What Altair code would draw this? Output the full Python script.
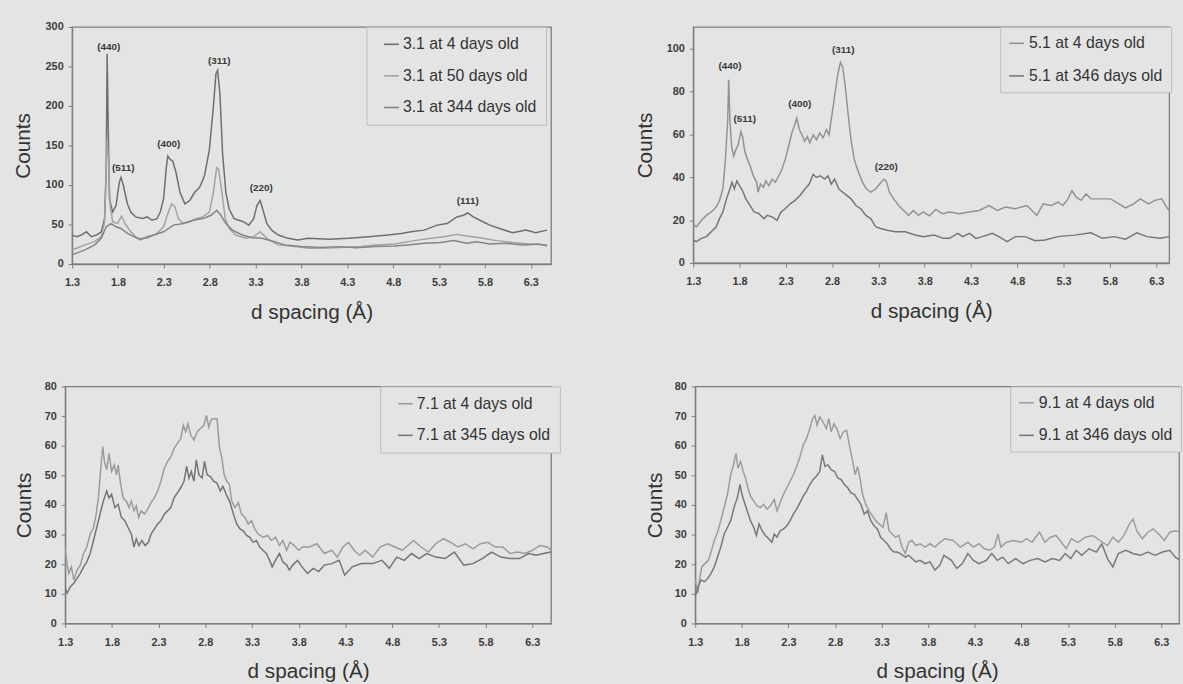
import altair as alt
import pandas as pd

BG = "#e4e4e4"
FONT = "Liberation Sans"
FRAME = "#7d7d7d"

# ---------------- data ----------------
xticks = [1.3, 1.8, 2.3, 2.8, 3.3, 3.8, 4.3, 4.8, 5.3, 5.8, 6.3]

# Panel 3.1
p1_names = ["3.1 at 4 days old", "3.1 at 50 days old", "3.1 at 344 days old"]
p1_x_a = [1.30,1.35,1.40,1.457,1.51,1.565,1.618,1.654,1.672,1.682,1.693,1.707,1.743,1.779,1.814,1.833,1.86,1.903,1.94,1.993,
          2.065,2.118,2.172,2.225,2.261,2.297,2.325,2.343,2.368,2.397,2.433,2.476,2.529,2.583,2.636,2.69,2.743,2.797,2.84,2.868,
          2.886,2.911,2.94,2.976,3.011,3.065,3.118,3.172,3.226,3.279,3.315,3.35,3.387,3.422,3.476,3.548,3.655,3.762,3.869,4.10,
          4.315,4.53,4.744,4.887,4.995,5.137,5.28,5.387,5.494,5.566,5.612,5.673,5.745,5.852,5.959,6.102,6.245,6.352,6.477]
p1_y_a = [36.6,34.6,36.7,40.8,34.6,36.7,40.8,57.5,120,266,182.5,82.5,65.8,74,103,109.6,99,76,65.8,59.6,
          57.5,59.6,55.4,57.5,65.8,82.5,120,136.7,132.5,130.4,115.8,90.8,76.2,80.4,90.8,97,111.7,145,199.2,240.8,
          245,215.8,140.8,90.8,70,57.5,55.4,53.3,49.2,57.5,74.2,80.4,65.8,51.25,42.9,36.7,32.5,30.4,32.5,31.25,
          32.5,34.6,36.7,38.75,40.8,42.9,49.2,51.25,59.6,61.7,64.6,59.6,55.4,49.2,45,39.6,42.9,39.6,42.9]
p1_x_b = [1.30,1.35,1.44,1.547,1.618,1.654,1.672,1.682,1.697,1.715,1.743,1.797,1.839,1.876,1.94,2.011,2.118,2.225,2.297,2.35,
          2.386,2.422,2.458,2.511,2.583,2.654,2.725,2.797,2.84,2.876,2.897,2.933,2.969,3.011,3.083,3.19,3.279,3.35,3.422,3.548,
          3.726,3.886,4.10,4.458,4.601,4.816,5.03,5.209,5.352,5.494,5.601,5.745,5.923,6.102,6.28,6.477]
p1_y_b = [18,20,24.2,28.3,34.6,53.3,120,159.6,132.5,74.2,53.3,51.25,60.8,51.25,40.8,32.5,32.5,38.75,47.1,65.8,
          76.2,72,57.5,51.25,53.3,57.5,59.6,65.8,90.8,122,120,90.8,57.5,45,36.7,32.5,34.6,40.8,32.5,24.2,
          22.1,20,20.4,22.1,24.2,25.4,29.6,32.5,34.6,37.5,35.4,33.3,29.6,27.1,25.4,24.2]
p1_x_c = [1.30,1.35,1.44,1.547,1.618,1.672,1.725,1.779,1.833,1.903,1.975,2.047,2.118,2.19,2.297,2.404,2.511,2.618,2.725,2.815,
          2.876,2.922,2.976,3.047,3.154,3.261,3.369,3.476,3.618,3.797,4.00,4.20,4.40,4.601,4.816,4.958,5.137,5.316,5.459,5.601,
          5.709,5.852,6.03,6.209,6.388,6.477]
p1_y_c = [12,13.75,17.9,24.2,32.5,47.1,51.25,47.1,45,38.75,34.6,30.4,34.6,36.7,40.8,49.2,51.25,55.4,57.5,61.7,
          67.9,61.7,51.25,42.9,36.7,33.3,32.5,29.2,24.2,22.1,21,22,20.5,22.1,22.9,24.2,26.25,27.1,29.6,26.25,
          28.3,25.4,26.25,24.2,25.4,22.9]
p1_peak_text = ["(440)", "(511)", "(400)", "(311)", "(220)", "(111)"]
p1_peak_x = [1.70, 1.857, 2.354, 2.904, 3.361, 5.612]
p1_peak_y = [275, 122, 152, 257, 96, 80]

# Panel 5.1
p2_names = ["5.1 at 4 days old", "5.1 at 346 days old"]
p2_x_a = [1.30,1.335,1.389,1.442,1.495,1.548,1.584,1.62,1.648,1.673,1.683,1.697,1.715,1.737,1.761,1.787,1.815,1.833,1.857,1.886,
          1.915,1.95,1.985,2.0,2.027,2.056,2.085,2.117,2.152,2.187,2.223,2.258,2.294,2.33,2.365,2.39,2.418,2.447,2.475,2.503,
          2.532,2.56,2.596,2.631,2.667,2.702,2.738,2.767,2.79,2.826,2.862,2.89,2.915,2.943,2.972,3.004,3.039,3.086,3.129,3.171,
          3.217,3.27,3.313,3.359,3.384,3.419,3.465,3.519,3.572,3.625,3.678,3.732,3.785,3.85,3.92,3.99,4.069,4.175,4.282,4.388,
          4.495,4.583,4.673,4.779,4.903,5.009,5.081,5.169,5.24,5.294,5.347,5.39,5.435,5.489,5.542,5.595,5.702,5.808,5.897,5.968,
          6.057,6.128,6.217,6.287,6.359,6.412,6.44]
p2_y_a = [18,16.9,19.9,22.2,23.8,26.1,29.2,34.5,48.3,66.7,85.4,66.5,54.4,49.8,52.9,55.2,61.3,59,52.1,48.3,
          45.2,40.6,37.6,33,36.8,35.3,38.3,36,39.1,37.6,40.6,43.7,48.3,54.4,60.6,63.6,67.5,62.1,59.8,56.7,
          59,56,59.8,57.5,60.6,58.3,62.1,59.8,66.7,77.4,88.1,93.5,91.2,82,69.7,57.5,48.3,42.2,37.6,34.5,
          33,34.5,36.8,39.1,38.3,33,29.9,26.8,24.5,22.2,24.5,22.2,23.8,22,25,23,23.8,23,23.8,24.5,
          26.8,24.5,26.1,25.3,26.8,22.2,27.6,26.8,28.4,26.8,29.9,33.8,30.7,29.2,32.2,29.9,29.9,29.9,27.6,25.7,
          27.6,29.9,27.6,29.2,29.9,26.1,24.5]
p2_x_b = [1.30,1.335,1.389,1.442,1.495,1.548,1.584,1.62,1.655,1.69,1.719,1.744,1.772,1.801,1.832,1.868,1.915,1.957,2.01,2.063,
          2.099,2.152,2.205,2.248,2.294,2.347,2.4,2.453,2.507,2.553,2.596,2.631,2.674,2.72,2.756,2.791,2.826,2.873,2.915,2.958,
          3.004,3.057,3.11,3.164,3.217,3.27,3.324,3.395,3.484,3.59,3.697,3.785,3.9,4.0,4.069,4.157,4.21,4.282,4.353,4.424,
          4.53,4.601,4.69,4.779,4.886,4.992,5.099,5.24,5.418,5.595,5.72,5.844,5.968,6.092,6.199,6.341,6.44]
p2_y_b = [10.5,10,11.5,12.3,14.6,16.9,20.7,23.8,29.2,33.8,37.6,34.5,38.3,36,33.8,29.9,26.8,23.8,23,20.7,
          22.2,21.5,19.9,23.8,25.3,27.6,29.2,31.5,34.5,36.8,41.4,39.9,40.6,39.1,40.6,36.8,39.1,34.5,33,31.5,
          29.9,26.8,25.3,22.2,20.7,16.9,16.1,15.3,14.6,14.6,13.1,12.3,13,11.5,11.5,13.8,12.3,13.8,11.5,12.3,
          13.8,12.3,10,12.3,12.3,10.4,10.7,12.3,13,14.1,11.5,12.3,11.1,14.1,12.3,11.5,12.3]
p2_peak_text = ["(440)", "(511)", "(400)", "(311)", "(220)"]
p2_peak_x = [1.697, 1.857, 2.45, 2.92, 3.384]
p2_peak_y = [91.6, 67.2, 74.1, 99.4, 44.6]

# Panel 7.1
p3_names = ["7.1 at 4 days old", "7.1 at 345 days old"]
p3_x_a = [1.30,1.321,1.339,1.367,1.392,1.427,1.462,1.497,1.532,1.568,1.603,1.631,1.656,1.684,1.702,1.72,1.744,1.769,1.797,1.825,
          1.85,1.867,1.892,1.92,1.955,1.984,2.008,2.036,2.061,2.086,2.114,2.149,2.184,2.219,2.255,2.29,2.325,2.361,2.396,2.431,
          2.466,2.501,2.537,2.565,2.59,2.614,2.643,2.678,2.713,2.748,2.784,2.812,2.837,2.865,2.9,2.925,2.953,2.977,3.002,3.03,
          3.058,3.083,3.118,3.153,3.188,3.224,3.259,3.294,3.329,3.365,3.417,3.47,3.506,3.551,3.594,3.629,3.671,3.706,3.752,3.798,
          3.84,3.914,3.994,4.074,4.153,4.213,4.273,4.332,4.392,4.451,4.511,4.591,4.67,4.75,4.83,4.909,4.988,5.028,5.108,5.187,
          5.267,5.347,5.426,5.505,5.585,5.665,5.744,5.824,5.904,5.983,6.062,6.142,6.222,6.301,6.38,6.46,6.5]
p3_y_a = [25,20,16.9,19.1,14.7,18,19.7,23.6,25.8,30.2,32.4,36.8,42.4,53.5,59.7,54.7,51.9,57.4,51.3,53.5,
          50.2,53.5,47.4,42.4,41.3,39.1,41.3,38,39.7,35.8,38,36.9,38.6,40.8,42.4,44.7,48,52.4,54.7,56.3,
          59.1,60.8,62.4,66.9,64.7,67.4,63.6,61.9,64.7,65.8,66.9,70.2,66.3,68.9,69.1,69.1,59.1,55.8,50.2,48,
          46.9,41.3,39.1,40.8,36.9,35.8,33.6,34.7,31.9,30.2,29.1,29.7,28,29.1,26.3,28,24.7,27.4,26.3,24.7,
          25.8,25.8,26.9,23.6,24.7,22.4,25.8,27.4,24.7,23,24.7,22.4,25.8,26.9,25.8,24.7,26.9,28,25.8,24.1,
          26.9,28.6,27.4,25.8,26.9,25.2,26.9,27.4,25.8,25.8,23.6,24.1,23.6,24.7,26.3,25.8,24.7]
p3_x_b = [1.30,1.321,1.356,1.392,1.427,1.462,1.497,1.532,1.568,1.603,1.638,1.673,1.709,1.744,1.769,1.797,1.832,1.867,1.902,1.938,
          1.973,2.008,2.036,2.061,2.089,2.121,2.156,2.191,2.219,2.255,2.29,2.325,2.361,2.396,2.431,2.466,2.501,2.537,2.572,2.6,
          2.625,2.65,2.678,2.703,2.731,2.766,2.791,2.819,2.854,2.889,2.925,2.96,2.988,3.023,3.065,3.101,3.136,3.171,3.206,3.241,
          3.277,3.312,3.347,3.382,3.417,3.453,3.488,3.516,3.551,3.594,3.629,3.671,3.699,3.734,3.787,3.835,3.894,3.954,4.014,4.074,
          4.153,4.232,4.292,4.372,4.471,4.591,4.69,4.769,4.849,4.929,5.008,5.088,5.168,5.267,5.367,5.466,5.566,5.665,5.764,5.864,
          5.963,6.062,6.162,6.261,6.341,6.42,6.5]
p3_y_b = [12,10.2,12.4,13.6,15.2,16.9,19.1,20.8,23.6,28,32.4,36.9,41.3,44.7,42.4,43.6,39.1,40.2,35.8,34.7,
          32.4,30.2,25.8,28.6,26.3,28,26.3,27.4,30.2,31.9,33.6,34.7,36.9,38,39.1,42.4,44.1,45.8,48,53,
          49.1,51.3,48,55.2,50.2,49.1,54.7,50.2,49.6,48,47.4,44.7,46.3,43.6,40.8,36.9,33.6,31.9,31.3,29.7,
          29.1,27.4,28,25.8,24.7,23.6,21.3,19.1,21.3,23.6,20.8,19.7,18,19.7,21.3,19.1,16.9,18.6,17.5,19.7,
          20.2,21.3,16.3,19.1,20.2,20.2,21.3,18.6,22.4,21.3,23.6,21.9,23.6,22.4,21.9,24.1,19.7,20.2,21.9,24.1,
          22.4,21.9,21.9,23.6,23,23.6,24.1]

# Panel 9.1
p4_names = ["9.1 at 4 days old", "9.1 at 346 days old"]
p4_x_a = [1.30,1.329,1.346,1.37,1.405,1.441,1.476,1.505,1.54,1.575,1.611,1.646,1.681,1.71,1.738,1.759,1.787,1.815,1.84,1.865,
          1.893,1.929,1.964,2.0,2.035,2.071,2.106,2.148,2.177,2.212,2.247,2.283,2.318,2.353,2.388,2.424,2.459,2.494,2.53,2.558,
          2.583,2.607,2.636,2.671,2.706,2.734,2.759,2.788,2.819,2.855,2.89,2.925,2.954,2.989,3.017,3.042,3.067,3.095,3.13,3.166,
          3.201,3.236,3.272,3.314,3.349,3.378,3.413,3.448,3.484,3.519,3.554,3.59,3.625,3.667,3.713,3.766,3.819,3.872,3.925,3.978,
          4.067,4.145,4.225,4.284,4.343,4.402,4.461,4.509,4.548,4.578,4.638,4.717,4.796,4.855,4.913,4.993,5.052,5.11,5.17,5.229,
          5.28,5.335,5.406,5.485,5.564,5.642,5.722,5.78,5.839,5.899,5.958,5.997,6.036,6.096,6.155,6.213,6.272,6.332,6.391,6.45,6.5]
p4_y_a = [15,10.2,14.7,19.1,20.2,21.3,24.7,28,30.8,34.7,39.1,43.6,50.2,53.5,57.4,52.4,54.7,51.3,49.1,45.8,
          43,41.3,39.7,39.1,40.2,38.6,39.7,41.9,38,40.8,43.6,45.8,48,50.2,53,56.3,60.2,62.4,65.8,69.1,
          70.2,66.9,69.7,68,65.8,69.1,64.7,67.4,65.8,62.4,64.7,65.2,60.2,54.7,50.2,53,49.1,43.6,40.2,38,
          36.3,34.7,33.6,32.4,37.4,31.3,30.2,29.1,29.7,25.8,23.6,27.4,28,26.3,26.9,25.8,26.9,25.8,27.4,28.6,
          28,25.8,27.4,25.8,26.9,25.2,24.7,25.8,30.2,25.8,27.4,28,27.4,28.6,27.4,30.8,27.4,29.1,29.7,27.4,
          25.2,28.6,27.4,29.1,29.7,28,26.3,29.1,27.4,29.7,33.6,35.2,31.3,28.6,30.8,31.9,30.2,28,30.8,31.3,30.8]
p4_x_b = [1.30,1.329,1.364,1.399,1.434,1.47,1.505,1.54,1.575,1.611,1.646,1.681,1.716,1.752,1.78,1.801,1.829,1.858,1.893,1.929,
          1.957,1.985,2.017,2.053,2.088,2.123,2.148,2.177,2.212,2.247,2.283,2.318,2.353,2.388,2.424,2.459,2.494,2.53,2.565,2.6,
          2.636,2.664,2.692,2.724,2.759,2.795,2.83,2.865,2.9,2.936,2.971,3.007,3.042,3.077,3.113,3.148,3.183,3.219,3.254,3.289,
          3.325,3.36,3.395,3.431,3.466,3.501,3.554,3.59,3.625,3.667,3.713,3.766,3.819,3.872,3.925,3.968,4.048,4.106,4.166,4.225,
          4.284,4.343,4.422,4.481,4.54,4.599,4.658,4.736,4.816,4.894,4.973,5.052,5.13,5.209,5.268,5.328,5.387,5.445,5.525,5.603,
          5.662,5.722,5.78,5.839,5.918,5.997,6.075,6.155,6.233,6.312,6.391,6.45,6.5]
p4_y_b = [9,12.4,14.7,14.1,15.2,16.9,19.1,22.4,25.8,30.2,32.4,34.7,39.1,42.4,46.9,43.6,40.8,38,34.7,32.4,
          29.7,33.6,31.3,29.7,28.6,27.4,30.2,29.1,31.3,31.9,33,34.7,36.9,38.6,40.8,43,44.7,46.9,48.6,49.7,
          51.3,56.9,53,53.5,51.9,51.3,49.1,48.6,46.9,45.8,44.1,43.6,41.9,40.2,36.9,38,34.7,33,31.9,29.1,
          28,26.9,25.2,24.1,24.1,23.6,22.4,23,21.9,20.8,21.3,20.2,20.8,18,19.7,23,21.3,18.6,20.2,23.6,
          21.3,20.2,21.3,23.6,21.3,22.4,20.2,21.9,20.2,21.3,21.9,20.8,21.9,21.3,23.6,21.9,24.7,23,25.2,24.1,
          26.9,21.9,19.1,23.6,24.7,23.6,23,24.1,23,24.1,24.7,22.4,21.3]


# ---------------- helpers ----------------
def frame(xs_list, ys_list, names):
    parts = []
    for xs, ys, n in zip(xs_list, ys_list, names):
        if len(xs) != len(ys):
            raise ValueError(f"length mismatch in {n}: {len(xs)} vs {len(ys)}")
        parts.append(pd.DataFrame({"d": xs, "counts": ys, "series": n}))
    return pd.concat(parts, ignore_index=True)


def panel(df, names, colors, xmax, ymax, yticks, width, height, extent,
          legend_x, legend_pad, sym_offset, row_pad, label_offset, peaks=None):
    xs = alt.Scale(domain=[1.3, xmax], nice=False, zero=False)
    ys = alt.Scale(domain=[0, ymax], nice=False, zero=True)
    x_axis = alt.Axis(values=xticks, format=".1f", title="d spacing (Å)",
                      grid=False, tickSize=4, labelPadding=9, titlePadding=14,
                      labelFlush=False, labelOverlap=False)
    y_axis = alt.Axis(values=yticks, title="Counts", grid=False, tickSize=4,
                      labelPadding=5, minExtent=extent, maxExtent=extent,
                      titlePadding=8, labelOverlap=False, labelFlush=False)
    lines = alt.Chart(df).mark_line(strokeWidth=1.5, clip=True).encode(
        x=alt.X("d:Q", scale=xs, axis=x_axis),
        y=alt.Y("counts:Q", scale=ys, axis=y_axis),
        color=alt.Color("series:N",
                        scale=alt.Scale(domain=names, range=colors),
                        sort=names,
                        legend=alt.Legend(title=None, orient="none", legendX=legend_x, legendY=0,
                                          direction="vertical", symbolType="stroke",
                                          symbolSize=225, symbolStrokeWidth=1.6,
                                          labelFontSize=16, labelFont=FONT, labelColor="#333333",
                                          labelOffset=label_offset, rowPadding=row_pad, padding=legend_pad,
                                          symbolOffset=sym_offset, labelLimit=400,
                                          strokeColor="#bcbcbc", fillColor=BG)))
    layers = [lines]
    if peaks is not None:
        txt, px, py = peaks
        pdf = pd.DataFrame({"label": txt, "d": px, "counts": py})
        layers.append(alt.Chart(pdf).mark_text(fontSize=10, fontWeight="bold", font=FONT,
                                               color="#3a3a3a", baseline="middle", align="center").encode(
            x=alt.X("d:Q", scale=xs, axis=x_axis),
            y=alt.Y("counts:Q", scale=ys, axis=y_axis),
            text="label:N"))
    return alt.layer(*layers).properties(width=width, height=height)


def spacer(w):
    return alt.Chart(pd.DataFrame({"v": [0]})).mark_point(size=1, opacity=0).encode(
        x=alt.value(w / 2), y=alt.value(0.5)
    ).properties(width=w, height=1, view=alt.ViewBackground(stroke="transparent", strokeWidth=0))


p1 = panel(frame([p1_x_a, p1_x_b, p1_x_c], [p1_y_a, p1_y_b, p1_y_c], p1_names), p1_names,
           ["#6e6e6e", "#a2a2a2", "#858585"], 6.52, 300, [0, 50, 100, 150, 200, 250, 300],
           485, 240, 31, 298, 9, 8, 15, 3, (p1_peak_text, p1_peak_x, p1_peak_y))
p2 = panel(frame([p2_x_a, p2_x_b], [p2_y_a, p2_y_b], p2_names), p2_names,
           ["#929292", "#767676"], 6.44, 110, [0, 20, 40, 60, 80, 100],
           482, 239, 30, 311, 8, 0, 16, 4, (p2_peak_text, p2_peak_x, p2_peak_y))
p3 = panel(frame([p3_x_a, p3_x_b], [p3_y_a, p3_y_b], p3_names), p3_names,
           ["#9b9b9b", "#747474"], 6.5, 80, [0, 10, 20, 30, 40, 50, 60, 70, 80],
           492, 240, 23, 319, 9, 8, 15, 3)
p4 = panel(frame([p4_x_a, p4_x_b], [p4_y_a, p4_y_b], p4_names), p4_names,
           ["#9c9c9c", "#787878"], 6.49, 80, [0, 10, 20, 30, 40, 50, 60, 70, 80],
           490, 240, 22, 319, 8, 0, 16, 4)

left1 = alt.hconcat(spacer(8), p1, spacing=0).resolve_scale(color="independent", y="independent")
left2 = alt.hconcat(spacer(9), p3, spacing=0).resolve_scale(color="independent", y="independent")

row1 = alt.hconcat(left1, p2, spacing=83).resolve_scale(
    color="independent", y="independent").resolve_legend(color="independent")
row2 = alt.hconcat(left2, p4, spacing=83).resolve_scale(
    color="independent", y="independent").resolve_legend(color="independent")

chart = alt.vconcat(row1, row2, spacing=57).resolve_scale(
    color="independent", x="independent").resolve_legend(color="independent").properties(
    padding={"left": 4, "top": 16, "right": 0, "bottom": 0},
    background=BG,
).configure(font=FONT).configure_view(
    stroke=FRAME, strokeWidth=1.3
).configure_axis(
    domainColor=FRAME, domainWidth=1.3, tickColor=FRAME, tickWidth=1,
    labelFont=FONT, labelFontSize=11, labelFontWeight="bold", labelColor="#3c3c3c",
    titleFont=FONT, titleFontSize=21, titleFontWeight="normal", titleColor="#333333"
)

chart.save("out.html", embed_options={"renderer": "svg", "actions": False})
